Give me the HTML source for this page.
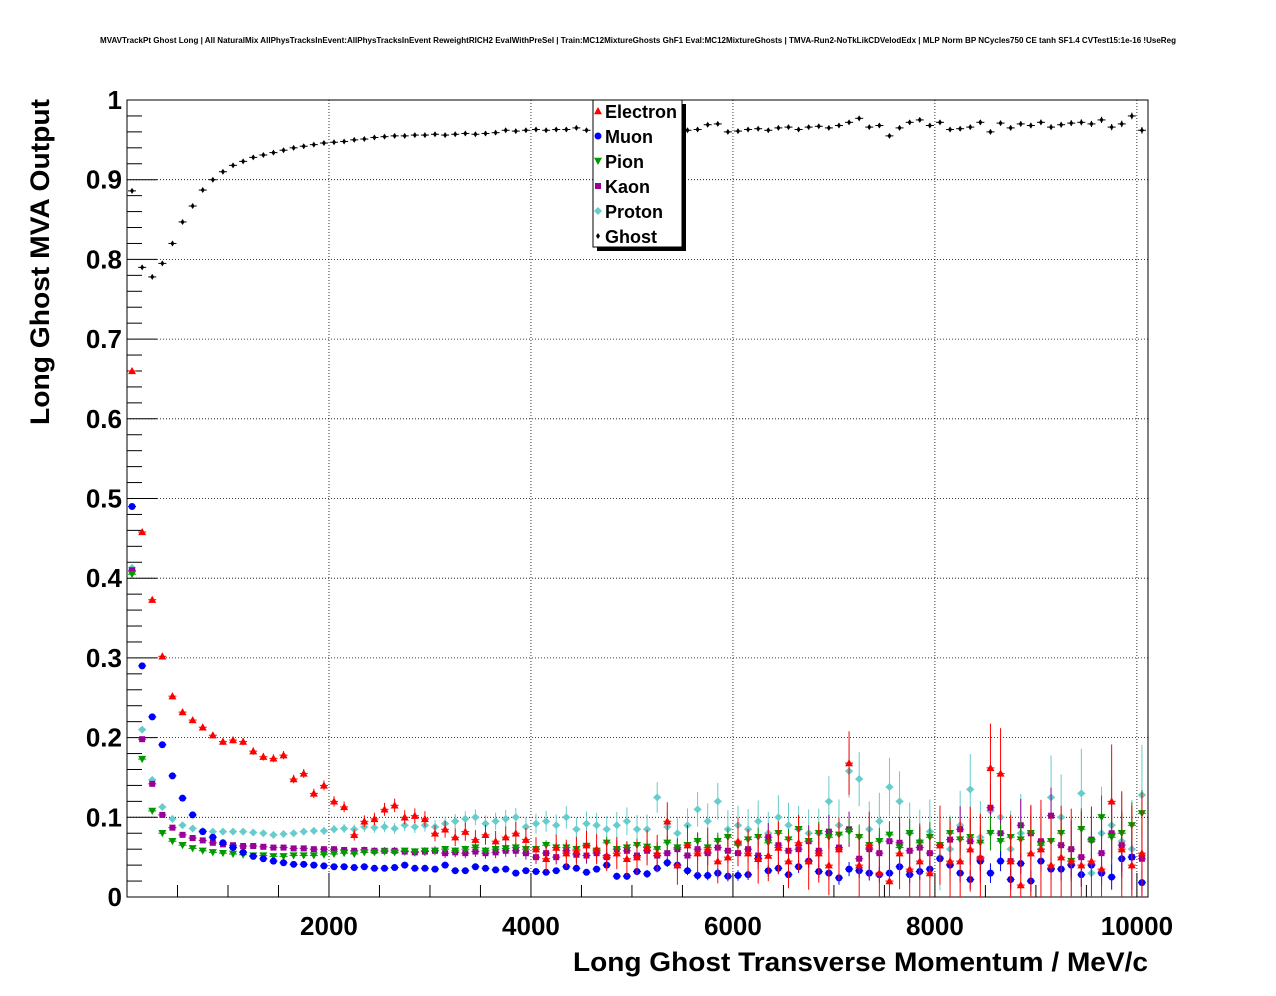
<!DOCTYPE html>
<html><head><meta charset="utf-8"><style>
body{margin:0;background:#fff;font-family:"Liberation Sans",sans-serif}
svg{display:block}
</style></head><body>
<svg id="c" width="1276" height="996"></svg>
<script>
const ghost=[0.886,0.790,0.778,0.795,0.820,0.847,0.867,0.887,0.900,0.910,0.918,0.923,0.928,0.931,0.934,0.937,0.940,0.942,0.944,0.946,0.947,0.948,0.950,0.951,0.953,0.954,0.955,0.955,0.956,0.956,0.957,0.956,0.957,0.958,0.957,0.958,0.959,0.962,0.961,0.962,0.963,0.962,0.963,0.963,0.965,0.962,0.963,0.964,0.962,0.963,0.962,0.964,0.960,0.966,0.963,0.962,0.963,0.969,0.970,0.960,0.961,0.963,0.964,0.962,0.965,0.966,0.963,0.966,0.967,0.965,0.968,0.972,0.977,0.966,0.968,0.955,0.965,0.972,0.975,0.968,0.972,0.963,0.964,0.966,0.972,0.960,0.971,0.965,0.970,0.968,0.972,0.966,0.969,0.971,0.972,0.970,0.975,0.966,0.970,0.980,0.962];
const electron=[0.660,0.458,0.373,0.302,0.252,0.232,0.222,0.213,0.203,0.195,0.197,0.195,0.183,0.176,0.174,0.178,0.148,0.155,0.130,0.140,0.120,0.113,0.078,0.095,0.098,0.110,0.115,0.100,0.102,0.098,0.080,0.085,0.075,0.082,0.072,0.078,0.070,0.075,0.080,0.072,0.060,0.048,0.062,0.055,0.058,0.065,0.060,0.052,0.055,0.048,0.050,0.062,0.055,0.095,0.040,0.065,0.055,0.060,0.045,0.050,0.070,0.055,0.048,0.052,0.062,0.045,0.068,0.045,0.055,0.040,0.060,0.168,0.040,0.065,0.030,0.020,0.055,0.035,0.045,0.030,0.065,0.045,0.045,0.060,0.050,0.162,0.155,0.045,0.015,0.055,0.060,0.040,0.050,0.045,0.040,0.045,0.035,0.120,0.060,0.040,0.055];
const muon=[0.490,0.290,0.226,0.191,0.152,0.124,0.103,0.082,0.075,0.068,0.062,0.056,0.051,0.048,0.045,0.043,0.041,0.041,0.040,0.039,0.038,0.038,0.037,0.038,0.036,0.036,0.037,0.040,0.036,0.036,0.035,0.040,0.033,0.033,0.038,0.036,0.034,0.035,0.030,0.033,0.032,0.031,0.033,0.038,0.036,0.031,0.035,0.040,0.026,0.026,0.032,0.029,0.036,0.043,0.040,0.033,0.027,0.027,0.030,0.026,0.027,0.028,0.048,0.033,0.036,0.028,0.038,0.045,0.032,0.030,0.024,0.035,0.033,0.030,0.028,0.030,0.038,0.028,0.032,0.035,0.048,0.040,0.030,0.022,0.045,0.030,0.045,0.022,0.042,0.020,0.045,0.035,0.035,0.040,0.028,0.040,0.030,0.025,0.048,0.050,0.018];
const pion=[0.405,0.173,0.108,0.080,0.070,0.065,0.061,0.058,0.056,0.055,0.054,0.053,0.052,0.052,0.051,0.051,0.052,0.052,0.052,0.053,0.054,0.055,0.054,0.056,0.056,0.057,0.056,0.058,0.057,0.058,0.058,0.060,0.058,0.060,0.062,0.058,0.060,0.061,0.062,0.060,0.060,0.065,0.062,0.062,0.060,0.064,0.058,0.068,0.060,0.062,0.065,0.063,0.060,0.068,0.062,0.065,0.070,0.062,0.070,0.075,0.065,0.072,0.075,0.068,0.080,0.072,0.085,0.070,0.080,0.075,0.078,0.082,0.075,0.065,0.070,0.078,0.062,0.080,0.068,0.075,0.065,0.080,0.072,0.075,0.068,0.080,0.070,0.075,0.072,0.080,0.065,0.070,0.080,0.045,0.085,0.070,0.100,0.075,0.080,0.090,0.105];
const kaon=[0.410,0.198,0.142,0.103,0.087,0.078,0.074,0.071,0.068,0.066,0.065,0.064,0.064,0.063,0.062,0.062,0.061,0.061,0.060,0.060,0.060,0.059,0.058,0.059,0.058,0.058,0.058,0.057,0.056,0.057,0.058,0.055,0.056,0.055,0.057,0.055,0.056,0.058,0.058,0.055,0.050,0.055,0.050,0.058,0.053,0.052,0.055,0.050,0.060,0.058,0.052,0.058,0.052,0.055,0.060,0.052,0.060,0.055,0.062,0.058,0.055,0.060,0.052,0.075,0.065,0.058,0.060,0.070,0.058,0.082,0.062,0.085,0.048,0.060,0.055,0.070,0.068,0.058,0.062,0.055,0.065,0.072,0.085,0.070,0.048,0.112,0.080,0.045,0.090,0.080,0.070,0.102,0.065,0.060,0.050,0.072,0.055,0.080,0.065,0.050,0.048];
const proton=[0.413,0.210,0.147,0.113,0.098,0.090,0.086,0.083,0.082,0.082,0.082,0.082,0.081,0.080,0.078,0.079,0.080,0.082,0.083,0.083,0.085,0.086,0.085,0.088,0.087,0.088,0.086,0.090,0.088,0.090,0.088,0.092,0.095,0.098,0.100,0.092,0.095,0.098,0.100,0.088,0.092,0.095,0.090,0.100,0.085,0.092,0.090,0.085,0.090,0.095,0.085,0.085,0.125,0.088,0.080,0.090,0.110,0.095,0.120,0.085,0.090,0.085,0.095,0.080,0.100,0.090,0.085,0.080,0.080,0.120,0.090,0.158,0.148,0.085,0.095,0.138,0.120,0.080,0.070,0.082,0.050,0.060,0.090,0.135,0.075,0.108,0.100,0.060,0.080,0.020,0.060,0.125,0.100,0.040,0.130,0.030,0.080,0.090,0.070,0.060,0.128];
const xTicks=[2000,4000,6000,8000,10000];
const yTicks=[0,0.1,0.2,0.3,0.4,0.5,0.6,0.7,0.8,0.9,1];
const binWidth=100;

const L=127,R=1148,T=100,B=897,XMAX=10110;
const sx=v=>L+v/XMAX*(R-L), sy=v=>B-v*(B-T);
const svg=document.getElementById('c'),NS='http://www.w3.org/2000/svg';
function mk(t,a,p){const e=document.createElementNS(NS,t);for(const k in a)e.setAttribute(k,a[k]);(p||svg).appendChild(e);return e;}

const title=mk('text',{x:638,y:43,'text-anchor':'middle','font-size':'8','font-weight':'bold',fill:'#000',textLength:1076,lengthAdjust:'spacingAndGlyphs'});


title.textContent='MVAVTrackPt Ghost Long | All NaturalMix AllPhysTracksInEvent:AllPhysTracksInEvent ReweightRICH2 EvalWithPreSel | Train:MC12MixtureGhosts GhF1 Eval:MC12MixtureGhosts | TMVA-Run2-NoTkLikCDVelodEdx | MLP Norm BP NCycles750 CE tanh SF1.4 CVTest15:1e-16 !UseReg';

const grid=mk('g',{stroke:'#000','stroke-width':0.8,'stroke-dasharray':'1,2'});


xTicks.forEach(v=>mk('line',{x1:sx(v),x2:sx(v),y1:T,y2:B},grid));
yTicks.forEach(v=>mk('line',{x1:L,x2:R,y1:sy(v),y2:sy(v)},grid));

const frame=mk('rect',{x:L,y:T,width:R-L,height:B-T,fill:'none',stroke:'#000','stroke-width':1});



const xa=mk('g',{'font-size':'26','font-weight':'bold','text-anchor':'middle'});


for(let v=0;v<=XMAX;v+=500){const big=v%2000===0;mk('line',{x1:sx(v),x2:sx(v),y1:B,y2:B-(big?24:12),stroke:'#000'},xa);}
xTicks.forEach(v=>{const t=mk('text',{x:sx(v),y:935},xa);t.textContent=v;});
const ya=mk('g',{'font-size':'26','font-weight':'bold','text-anchor':'end'});


for(let i=0;i<=50;i++){const v=i/50;mk('line',{x1:L,x2:L+(i%5===0?30:15),y1:sy(v),y2:sy(v),stroke:'#000'},ya);}
yTicks.forEach(v=>{const t=mk('text',{x:122,y:sy(v)+9},ya);t.textContent=v===0?'0':v===1?'1':v.toFixed(1);});

const xt=mk('text',{x:1148,y:971,'text-anchor':'end','font-size':'27','font-weight':'bold',textLength:575,lengthAdjust:'spacingAndGlyphs'});


xt.textContent='Long Ghost Transverse Momentum / MeV/c';
const yt=mk('text',{x:0,y:0,'text-anchor':'end','font-size':'27','font-weight':'bold',transform:'translate(49,99) rotate(-90)',textLength:326,lengthAdjust:'spacingAndGlyphs'});


yt.textContent='Long Ghost MVA Output';

function marker(g,shape,x,y,c){
  const s=4;
  if(shape==='tu')mk('polygon',{points:`${x},${y-s} ${x-s},${y+s*0.8} ${x+s},${y+s*0.8}`,fill:c},g);
  else if(shape==='td')mk('polygon',{points:`${x},${y+s} ${x-s},${y-s*0.8} ${x+s},${y-s*0.8}`,fill:c},g);
  else if(shape==='c')mk('circle',{cx:x,cy:y,r:3.5,fill:c},g);
  else if(shape==='s')mk('rect',{x:x-3,y:y-3,width:6,height:6,fill:c},g);
  else if(shape==='d')mk('polygon',{points:`${x},${y-4} ${x-4},${y} ${x},${y+4} ${x+4},${y}`,fill:c},g);
  else mk('polygon',{points:`${x},${y-3} ${x-2},${y} ${x},${y+3} ${x+2},${y}`,fill:c},g);
}
const series=[
 {name:'proton',data:proton,c:'#66cccc',sh:'d',ef:1.5},
 {name:'kaon',data:kaon,c:'#990099',sh:'s',ef:1.0},
 {name:'pion',data:pion,c:'#009900',sh:'td',ef:0.7},
 {name:'muon',data:muon,c:'#0000ff',sh:'c',ef:0.4},
 {name:'electron',data:electron,c:'#ff0000',sh:'tu',ef:1.8},
 {name:'ghost',data:ghost,c:'#000000',sh:'g',ef:0.1}
];
series.forEach(s=>{
  const g=mk('g',{});
  
  
  s.data.forEach((v,i)=>{
    const x=sx(binWidth*(i+0.5)),y=sy(v);
    const e=s.ef*(0.002+0.000004*i*i);
    mk('line',{x1:x,x2:x,y1:sy(v+e),y2:sy(Math.max(0,v-e)),stroke:s.c,'stroke-width':1},g);
    mk('line',{x1:x-4,x2:x+4,y1:y,y2:y,stroke:s.c,'stroke-width':1},g);
    marker(g,s.sh,x,y,s.c);
  });
});

const lg=mk('g',{});


mk('rect',{x:597,y:104,width:89,height:147,fill:'#000'},lg);
mk('rect',{x:593,y:100,width:89,height:147,fill:'#fff',stroke:'#000'},lg);
[['Electron','#ff0000','tu'],['Muon','#0000ff','c'],['Pion','#009900','td'],['Kaon','#990099','s'],['Proton','#66cccc','d'],['Ghost','#000','g']].forEach((e,i)=>{
  const y=111+i*25;
  const it=mk('g',{},lg);
  
  
  marker(it,e[2],598,y,e[1]);
  const t=mk('text',{x:605,y:y+7,'font-size':'18','font-weight':'bold'},it);t.textContent=e[0];
});
</script>
</body></html>
